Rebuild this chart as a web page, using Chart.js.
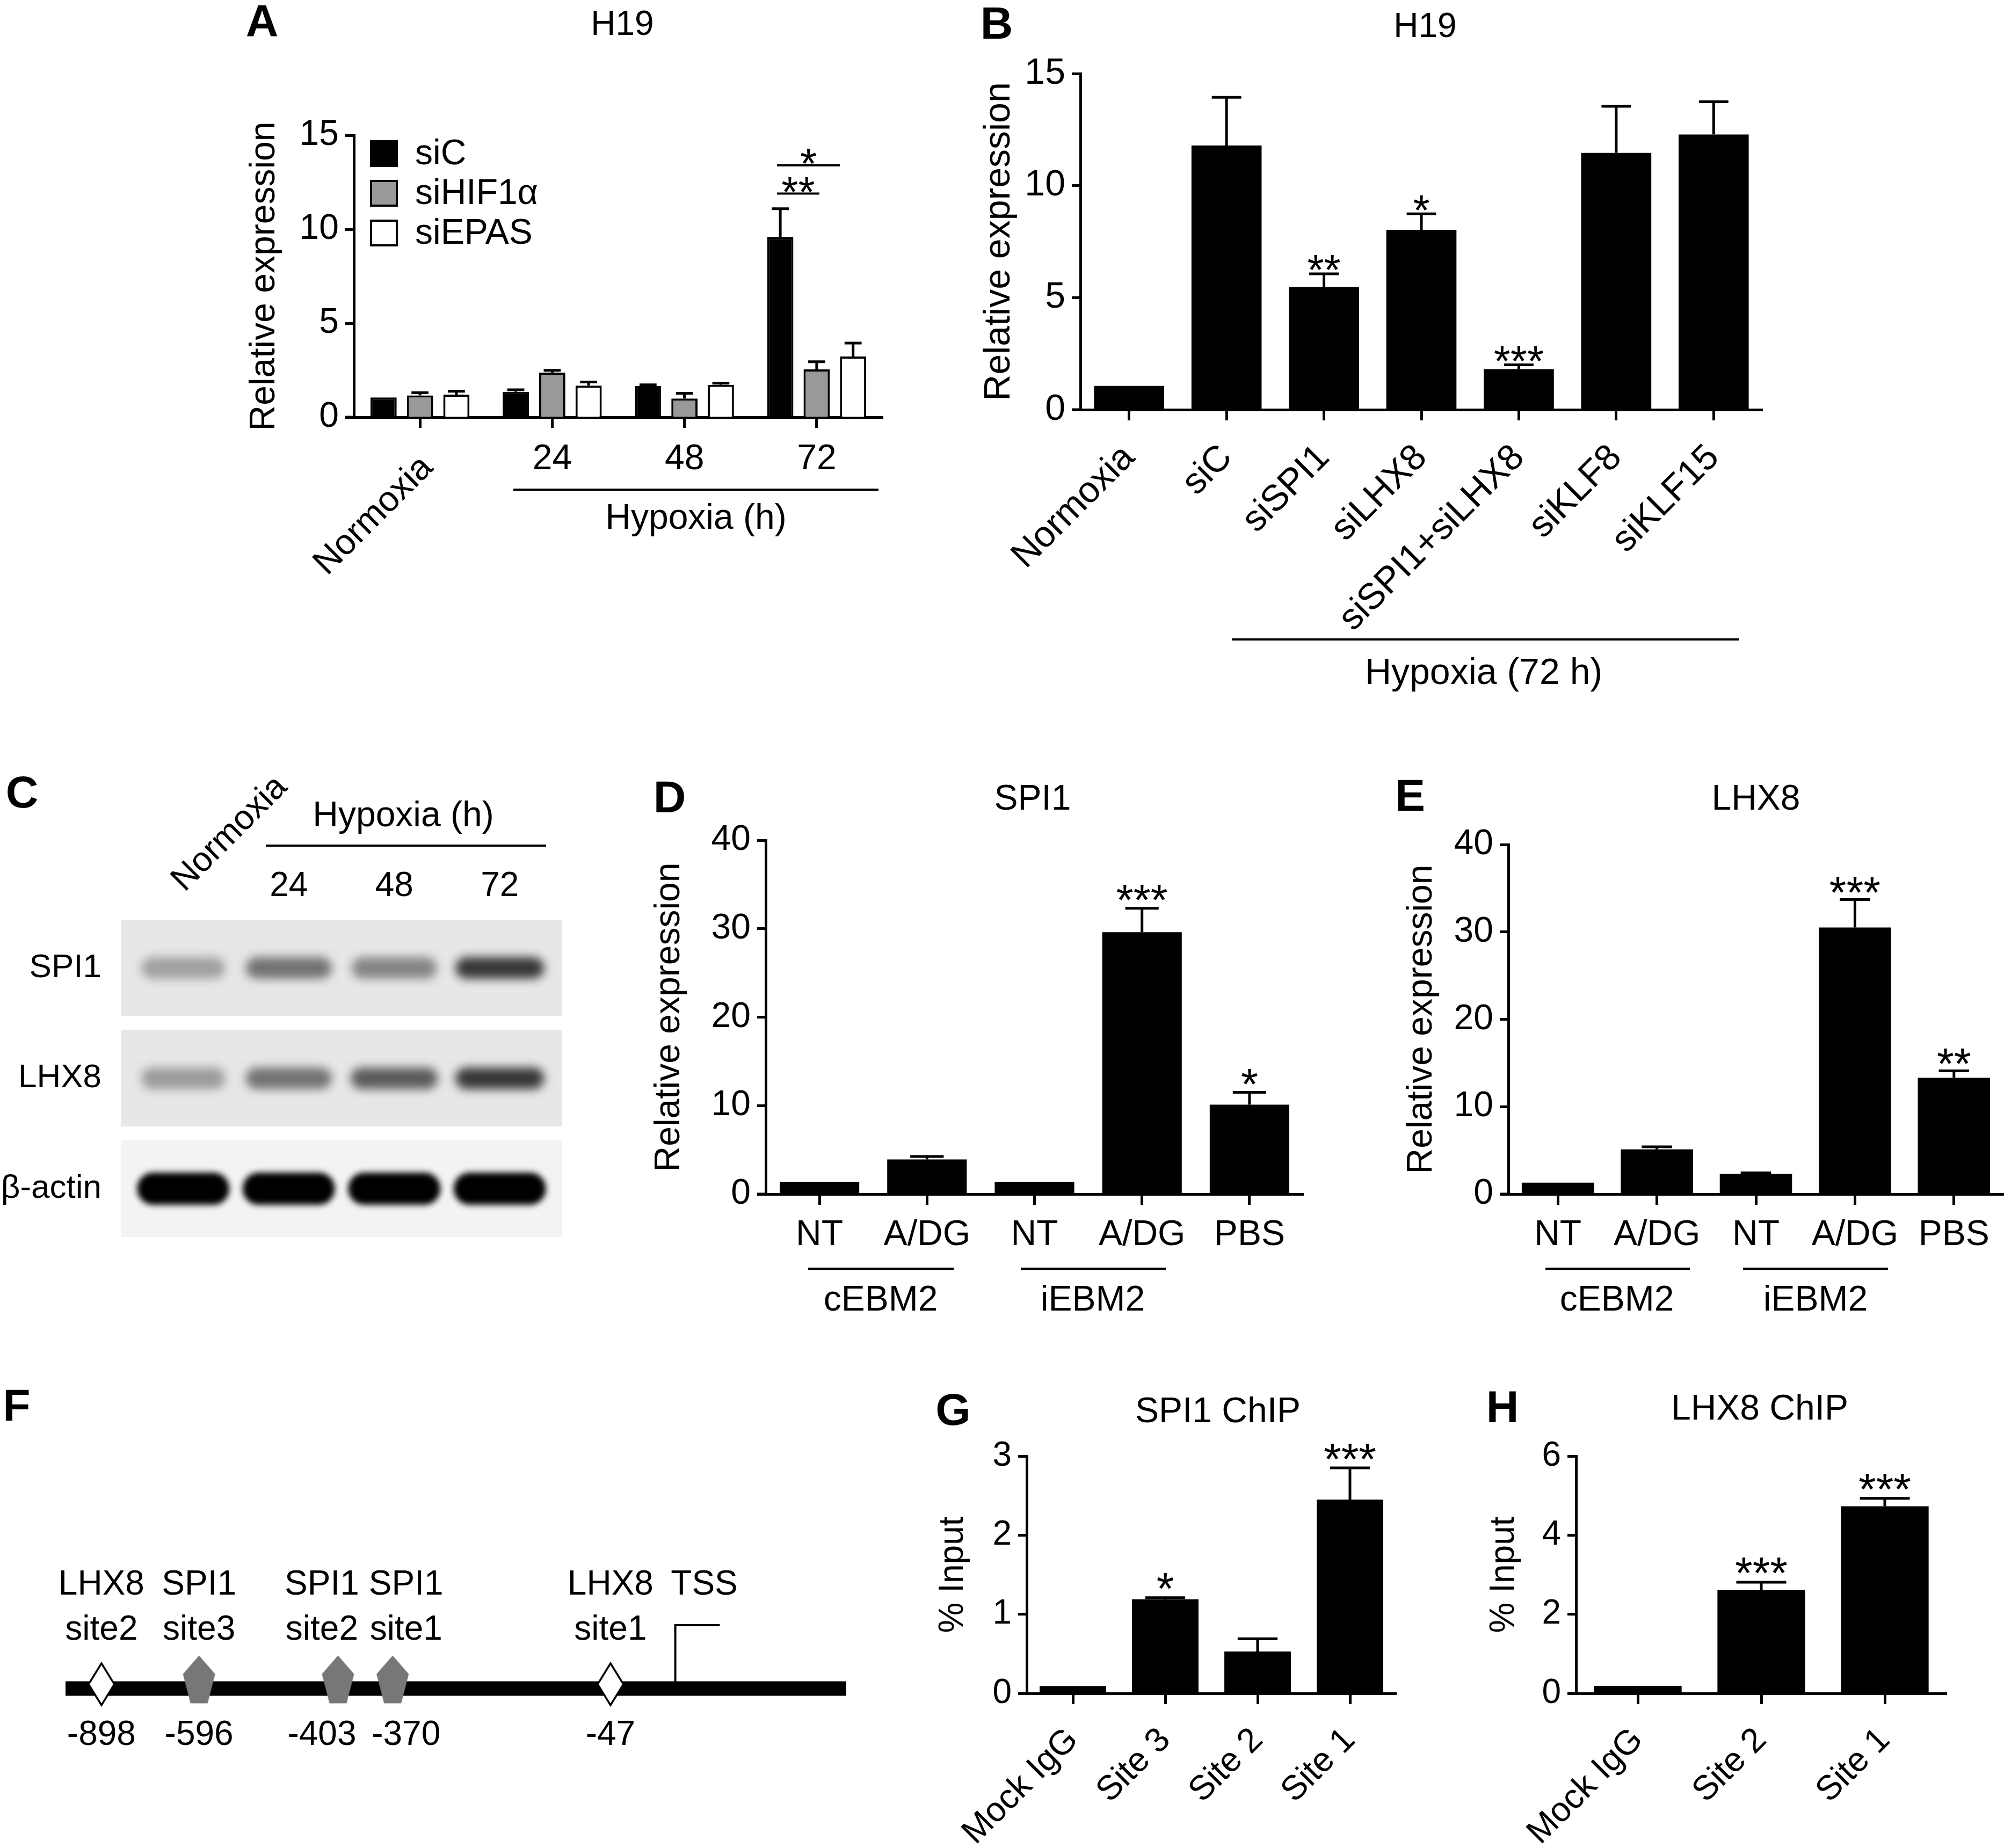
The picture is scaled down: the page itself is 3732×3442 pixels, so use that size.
<!DOCTYPE html>
<html lang="en">
<head>
<meta charset="UTF-8">
<title>H19 / SPI1 / LHX8</title>
<script src="https://cdn.jsdelivr.net/npm/chart.js@4.4.1/dist/chart.umd.min.js"></script>
<style>
  body { margin: 0; background: #fff; }
  #fig { position: relative; width: 3732px; height: 3442px; overflow: hidden; background: #fff; }
  #fig canvas { position: absolute; }
</style>
</head>
<body>
<div id="fig"></div>
<script>
// ---------------- data ----------------
// A: H19, siRNA vs hypoxia time
const aGroups = ['Normoxia', '24', '48', '72'];
const aSiC = [1.05, 1.35, 1.66, 9.59];
const aSiCErr = [0, 0.11, 0.06, 1.5];
const aSiHIF = [1.16, 2.37, 0.99, 2.54];
const aSiHIFErr = [0.14, 0.12, 0.28, 0.41];
const aSiEPAS = [1.2, 1.68, 1.72, 3.23];
const aSiEPASErr = [0.18, 0.19, 0.09, 0.71];
const aYTicks = [0, 5, 10, 15];
const aBrackets = [
  { group: 3, from: 0, to: 1, y: 11.9, text: '**' },
  { group: 3, from: 0, to: 2, y: 13.4, text: '*' }
];

// B: H19 after knockdown (hypoxia 72 h)
const bLabels = ['Normoxia', 'siC', 'siSPI1', 'siLHX8', 'siSPI1+siLHX8', 'siKLF8', 'siKLF15'];
const bValues = [1.06, 11.79, 5.47, 8.03, 1.81, 11.46, 12.28];
const bErr = [0, 2.15, 0.59, 0.71, 0.19, 2.08, 1.46];
const bStars = ['', '', '**', '*', '***', '', ''];
const bYTicks = [0, 5, 10, 15];

// C: western blot (band darkness 0..1)
const blotLanes = ['Normoxia', '24', '48', '72'];
const blotRows = ['SPI1', 'LHX8', 'β-actin'];
const bandSPI1 = [0.3, 0.5, 0.42, 0.76];
const bandLHX8 = [0.32, 0.5, 0.6, 0.76];
const bandActin = [1, 1, 1, 1];

// D / E: SPI1 and LHX8 expression
const deLabels = ['NT', 'A/DG', 'NT', 'A/DG', 'PBS'];
const dValues = [1.37, 3.92, 1.37, 29.6, 10.1];
const dErr = [0, 0.33, 0, 2.7, 1.4];
const dStars = ['', '', '', '***', '*'];
const eValues = [1.31, 5.12, 2.3, 30.5, 13.3];
const eErr = [0, 0.28, 0.12, 3.2, 0.8];
const eStars = ['', '', '', '***', '**'];
const deYTicks = [0, 10, 20, 30, 40];

// F: H19 promoter sites
const fSites = ['LHX8', 'SPI1', 'SPI1', 'SPI1', 'LHX8'];
const fSiteNo = ['site2', 'site3', 'site2', 'site1', 'site1'];
const fSitePos = ['-898', '-596', '-403', '-370', '-47'];
const fSiteX = [4.6, 17.1, 34.9, 41.9, 69.8];   // schematic position along the drawn promoter (0-100)
const fTss = [78.1, 83.8];                       // TSS stem and arrow end
const fTssH = 0.59;

// G / H: ChIP
const gLabels = ['Mock IgG', 'Site 3', 'Site 2', 'Site 1'];
const gValues = [0.094, 1.19, 0.53, 2.45];
const gErr = [0, 0.02, 0.16, 0.40];
const gStars = ['', '*', '', '***'];
const gYTicks = [0, 1, 2, 3];
const hLabels = ['Mock IgG', 'Site 2', 'Site 1'];
const hValues = [0.19, 2.62, 4.73];
const hErr = [0, 0.19, 0.2];
const hStars = ['', '***', '***'];
const hYTicks = [0, 2, 4, 6];

// ---------------- helpers ----------------
const FONT = '"Liberation Sans", Arial, Helvetica, sans-serif';
Chart.defaults.font.family = FONT;
Chart.defaults.color = '#000';
function px(size, bold) { return (bold ? 'bold ' : '') + size + 'px ' + FONT; }

function makeCanvas(id, left, top, width, height) {
  const c = document.createElement('canvas');
  c.id = id; c.width = width; c.height = height;
  c.style.left = left + 'px'; c.style.top = top + 'px';
  c.style.width = width + 'px'; c.style.height = height + 'px';
  document.getElementById('fig').appendChild(c);
  return c;
}

// free text and rules, given in page coordinates
function makeNotes(ox, oy, items, lines) {
  return {
    id: 'notes',
    afterDraw(chart) {
      const ctx = chart.ctx;
      ctx.save();
      ctx.strokeStyle = '#000'; ctx.fillStyle = '#000';
      lines.forEach(l => {
        ctx.lineWidth = l.w || 4;
        ctx.beginPath(); ctx.moveTo(l.x1 - ox, l.y1 - oy); ctx.lineTo(l.x2 - ox, l.y2 - oy); ctx.stroke();
      });
      items.forEach(n => {
        ctx.save();
        ctx.font = n.font;
        ctx.textAlign = n.align || 'center';
        ctx.textBaseline = n.base || 'middle';
        ctx.translate(n.x - ox, n.y - oy);
        if (n.rot) ctx.rotate(n.rot * Math.PI / 180);
        ctx.fillText(n.text, 0, 0);
        ctx.restore();
      });
      ctx.restore();
    }
  };
}

// error bars (upper half only) and significance stars
function makeErr(o) {
  return {
    id: 'errbars',
    afterDatasetsDraw(chart) {
      const ctx = chart.ctx, ys = chart.scales.y;
      ctx.save();
      ctx.strokeStyle = '#000'; ctx.fillStyle = '#000'; ctx.lineWidth = 5;
      chart.data.datasets.forEach((ds, di) => {
        chart.getDatasetMeta(di).data.forEach((bar, i) => {
          const v = ds.data[i], e = (ds.err || [])[i] || 0;
          const yTop = ys.getPixelForValue(v + e);
          if (e > 0) {
            const cw = bar.width * o.capFrac / 2;
            ctx.beginPath();
            ctx.moveTo(bar.x, bar.y); ctx.lineTo(bar.x, yTop);
            ctx.moveTo(bar.x - cw, yTop); ctx.lineTo(bar.x + cw, yTop);
            ctx.stroke();
          }
          const s = (ds.stars || [])[i];
          if (s) {
            ctx.font = px(o.starSize || 82);
            ctx.textAlign = 'center'; ctx.textBaseline = 'alphabetic';
            ctx.fillText(s, bar.x, yTop - o.starGap + 0.58 * (o.starSize || 82));
          }
        });
      });
      ctx.restore();
    }
  };
}

function barPanel(o) {
  const left = o.area.l - o.m.l, top = o.area.t - o.m.t;
  const w = o.area.r - o.area.l + o.m.l + o.m.r;
  const h = o.area.b - o.area.t + o.m.t + o.m.b;
  const cv = makeCanvas(o.id, left, top, w, h);
  const lines = (o.lines || []).concat([{ x1: o.area.l - 16, y1: o.area.b, x2: o.area.l, y2: o.area.b, w: 5 }]);
  return new Chart(cv, {
    type: 'bar',
    data: { labels: o.labels, datasets: o.datasets },
    options: {
      responsive: false, animation: false, events: [],
      layout: { padding: { left: 0, top: o.m.t, right: o.m.r, bottom: 0 } },
      plugins: { legend: { display: false }, tooltip: { enabled: false } },
      scales: {
        x: {
          offset: true,
          ticks: { display: o.xLabels !== false, font: { size: o.xfs }, color: '#000', autoSkip: false,
                   minRotation: o.xRot || 0, maxRotation: o.xRot || 0, padding: o.xPad || 10 },
          grid: { offset: false, drawOnChartArea: false, tickLength: 20, tickWidth: 5, tickColor: '#000' },
          border: { display: true, color: '#000', width: 5 },
          afterFit: s => { s.height = o.m.b; }
        },
        y: {
          min: 0, max: o.yTicks[o.yTicks.length - 1],
          afterBuildTicks: s => { s.ticks = o.yTicks.map(v => ({ value: v })); },
          ticks: { font: { size: o.yfs }, color: '#000', padding: 12 },
          grid: { drawOnChartArea: false, tickLength: 16, tickWidth: 5, tickColor: '#000' },
          border: { display: true, color: '#000', width: 5 },
          title: { display: true, text: o.yTitle, color: '#000', font: { size: o.ytfs },
                   padding: { top: o.ytPad, bottom: 0 } },
          afterFit: s => { s.width = o.m.l; }
        }
      }
    },
    plugins: [makeErr(o), makeNotes(left, top, o.notes || [], lines)].concat(o.extra || [])
  });
}

// ---------------- A ----------------
const aExtra = {
  id: 'aExtra',
  afterDraw(chart) {
    const ctx = chart.ctx, xs = chart.scales.x, ys = chart.scales.y, ca = chart.chartArea;
    ctx.save();
    ctx.fillStyle = '#000'; ctx.strokeStyle = '#000';
    ctx.font = px(66);
    aGroups.forEach((g, i) => {
      const x = xs.getPixelForValue(i);
      if (i === 0) {
        ctx.save(); ctx.translate(x + 14, ca.bottom + 84); ctx.rotate(-Math.PI / 4);
        ctx.textAlign = 'right'; ctx.textBaseline = 'middle'; ctx.fillText(g, 0, 0); ctx.restore();
      } else {
        ctx.textAlign = 'center'; ctx.textBaseline = 'middle'; ctx.fillText(g, x, ca.bottom + 79);
      }
    });
    // legend
    chart.data.datasets.forEach((ds, i) => {
      const cy = ca.top + 34 + i * 74, bx = ca.left + 30;
      ctx.fillStyle = ds.backgroundColor; ctx.fillRect(bx, cy - 25, 52, 50);
      ctx.lineWidth = 4; ctx.strokeRect(bx + 2, cy - 23, 48, 46);
      ctx.fillStyle = '#000'; ctx.textAlign = 'left'; ctx.textBaseline = 'middle';
      ctx.font = px(66); ctx.fillText(ds.label, bx + 84, cy + 2);
    });
    // significance brackets
    aBrackets.forEach(b => {
      const p = chart.getDatasetMeta(b.from).data[b.group], q = chart.getDatasetMeta(b.to).data[b.group];
      const x1 = p.x - 6, x2 = (b.to - b.from > 1) ? q.x - q.width / 2 : q.x + 5;
      const y = ys.getPixelForValue(b.y);
      ctx.lineWidth = 4;
      ctx.beginPath(); ctx.moveTo(x1, y); ctx.lineTo(x2, y); ctx.stroke();
      ctx.font = px(80); ctx.textAlign = 'center'; ctx.textBaseline = 'alphabetic';
      ctx.fillText(b.text, (x1 + x2) / 2, y - 22 + 0.58 * 80);
    });
    ctx.restore();
  }
};

barPanel({
  id: 'A', area: { l: 659, t: 252, r: 1644, b: 777 }, m: { l: 300, t: 252, r: 30, b: 310 },
  labels: aGroups, yTicks: aYTicks, yfs: 66, xfs: 66, xLabels: false,
  yTitle: 'Relative expression', ytfs: 66, ytPad: 94, capFrac: 0.65,
  datasets: [
    { label: 'siC', data: aSiC, err: aSiCErr, backgroundColor: '#000', borderColor: '#000', borderWidth: 4, barPercentage: 0.72, categoryPercentage: 0.826 },
    { label: 'siHIF1α', data: aSiHIF, err: aSiHIFErr, backgroundColor: '#999', borderColor: '#000', borderWidth: 4, barPercentage: 0.72, categoryPercentage: 0.826 },
    { label: 'siEPAS', data: aSiEPAS, err: aSiEPASErr, backgroundColor: '#fff', borderColor: '#000', borderWidth: 4, barPercentage: 0.72, categoryPercentage: 0.826 }
  ],
  notes: [
    { text: 'A', x: 488, y: 45, font: px(84, true) },
    { text: 'H19', x: 1159, y: 47, font: px(64) },
    { text: 'Hypoxia (h)', x: 1296, y: 967, font: px(66) }
  ],
  lines: [{ x1: 956, y1: 912, x2: 1636, y2: 912, w: 4 }],
  extra: [aExtra]
});

// ---------------- B ----------------
barPanel({
  id: 'B', area: { l: 2012, t: 137, r: 3282, b: 763 }, m: { l: 250, t: 137, r: 40, b: 540 },
  labels: bLabels, yTicks: bYTicks, yfs: 68, xfs: 68, xRot: 45, xPad: 30,
  yTitle: 'Relative expression', ytfs: 68, ytPad: 58, capFrac: 0.42, starSize: 80, starGap: 26,
  datasets: [{ data: bValues, err: bErr, stars: bStars, backgroundColor: '#000', barPercentage: 0.72, categoryPercentage: 1 }],
  notes: [
    { text: 'B', x: 1856, y: 49, font: px(84, true) },
    { text: 'H19', x: 2654, y: 51, font: px(64) },
    { text: 'Hypoxia (72 h)', x: 2763, y: 1255, font: px(68) }
  ],
  lines: [{ x1: 2294, y1: 1191, x2: 3238, y2: 1191, w: 4 }]
});

// ---------------- C (blot) ----------------
(function () {
  const left = 0, top = 1430;
  const cv = makeCanvas('C', left, top, 1060, 970);
  const pts = [];
  [bandSPI1, bandLHX8, bandActin].forEach((row, r) => row.forEach((v, i) => pts.push({ x: blotLanes[i], y: blotRows[r], v })));
  const cExtra = {
    id: 'cExtra',
    beforeDatasetsDraw(chart) {
      const ctx = chart.ctx, ys = chart.scales.y, ca = chart.chartArea;
      const rowH = (ca.bottom - ca.top) / blotRows.length;
      ctx.save();
      blotRows.forEach((r, i) => {
        const cy = ys.getPixelForValue(i);
        ctx.fillStyle = i === 2 ? '#f3f3f3' : '#e7e7e7';
        ctx.fillRect(ca.left - 18, cy - rowH / 2 + 13, ca.right - ca.left + 36, rowH - 26);
      });
      ctx.restore();
    },
    afterDatasetsDraw(chart) {
      const ctx = chart.ctx;
      ctx.save();
      chart.getDatasetMeta(0).data.forEach((p, k) => {
        const d = pts[k].v, actin = pts[k].y === 'β-actin';
        const bw = actin ? 172 : 150 + 20 * d, bh = actin ? 60 : 40;
        const g = Math.round(228 * (1 - d));
        ctx.filter = actin ? 'blur(6px)' : 'blur(9px)';
        ctx.fillStyle = 'rgb(' + g + ',' + g + ',' + g + ')';
        ctx.beginPath();
        ctx.roundRect(p.x - bw / 2, p.y - bh / 2, bw, bh, bh / 2);
        ctx.fill();
      });
      ctx.restore();
    },
    afterDraw(chart) {
      const ctx = chart.ctx, xs = chart.scales.x;
      ctx.save();
      ctx.fillStyle = '#000'; ctx.font = px(64);
      blotLanes.forEach((l, i) => {
        const x = xs.getPixelForValue(i);
        if (i === 0) {
          ctx.save(); ctx.translate(x - 10, 1650 - top); ctx.rotate(-Math.PI / 4);
          ctx.textAlign = 'left'; ctx.textBaseline = 'middle'; ctx.fillText(l, 0, 0); ctx.restore();
        } else {
          ctx.textAlign = 'center'; ctx.textBaseline = 'middle'; ctx.fillText(l, x, 1651 - top);
        }
      });
      ctx.restore();
    }
  };
  new Chart(cv, {
    type: 'scatter',
    data: { datasets: [{ data: pts, pointRadius: 0 }] },
    options: {
      responsive: false, animation: false, events: [],
      layout: { padding: { left: 0, top: 270, right: 31, bottom: 25 } },
      plugins: { legend: { display: false }, tooltip: { enabled: false } },
      scales: {
        x: { type: 'category', labels: blotLanes, offset: true, display: false },
        y: { type: 'category', labels: blotRows, offset: true,
             ticks: { font: { size: 62 }, color: '#000', padding: 46 },
             grid: { display: false }, border: { display: false },
             afterFit: s => { s.width = 243; } }
      }
    },
    plugins: [cExtra, makeNotes(left, top, [
      { text: 'C', x: 41, y: 1481, font: px(84, true) },
      { text: 'Hypoxia (h)', x: 751, y: 1521, font: px(66) }
    ], [{ x1: 495, y1: 1575, x2: 1017, y2: 1575, w: 4 }])]
  });
})();

// ---------------- D ----------------
barPanel({
  id: 'D', area: { l: 1426, t: 1565, r: 2427, b: 2224 }, m: { l: 230, t: 135, r: 20, b: 240 },
  labels: deLabels, yTicks: deYTicks, yfs: 66, xfs: 66, xPad: 17,
  yTitle: 'Relative expression', ytfs: 66, ytPad: 11, capFrac: 0.42, starSize: 82, starGap: 35,
  datasets: [{ data: dValues, err: dErr, stars: dStars, backgroundColor: '#000', barPercentage: 0.74, categoryPercentage: 1 }],
  notes: [
    { text: 'D', x: 1247, y: 1490, font: px(84, true) },
    { text: 'SPI1', x: 1923, y: 1490, font: px(66) },
    { text: 'cEBM2', x: 1640, y: 2423, font: px(66) },
    { text: 'iEBM2', x: 2035, y: 2423, font: px(66) }
  ],
  lines: [{ x1: 1505, y1: 2363, x2: 1776, y2: 2363 }, { x1: 1901, y1: 2363, x2: 2171, y2: 2363 }]
});

// ---------------- E ----------------
barPanel({
  id: 'E', area: { l: 2809, t: 1573, r: 3731, b: 2224 }, m: { l: 230, t: 143, r: 1, b: 240 },
  labels: deLabels, yTicks: deYTicks, yfs: 66, xfs: 66, xPad: 17,
  yTitle: 'Relative expression', ytfs: 66, ytPad: 29, capFrac: 0.42, starSize: 82, starGap: 33,
  datasets: [{ data: eValues, err: eErr, stars: eStars, backgroundColor: '#000', barPercentage: 0.73, categoryPercentage: 1 }],
  notes: [
    { text: 'E', x: 2626, y: 1487, font: px(84, true) },
    { text: 'LHX8', x: 3270, y: 1490, font: px(66) },
    { text: 'cEBM2', x: 3011, y: 2423, font: px(66) },
    { text: 'iEBM2', x: 3381, y: 2423, font: px(66) }
  ],
  lines: [{ x1: 2878, y1: 2363, x2: 3147, y2: 2363 }, { x1: 3246, y1: 2363, x2: 3516, y2: 2363 }]
});

// ---------------- F (promoter map) ----------------
(function () {
  const left = 0, top = 2570;
  const cv = makeCanvas('F', left, top, 1620, 872);
  function shape(w, h, pts, fill, stroke) {
    const c = document.createElement('canvas'); c.width = w; c.height = h;
    const g = c.getContext('2d');
    g.beginPath(); pts.forEach((p, i) => i ? g.lineTo(p[0], p[1]) : g.moveTo(p[0], p[1])); g.closePath();
    g.fillStyle = fill; g.fill();
    if (stroke) { g.lineWidth = 3.5; g.strokeStyle = stroke; g.stroke(); }
    return c;
  }
  const shapes = {
    LHX8: shape(54, 98, [[27, 2], [51, 41], [27, 80], [3, 41]], '#fff', '#000'),
    SPI1: shape(62, 124, [[31, 0.5], [61, 35], [47, 89.5], [15, 89.5], [1, 35]], '#777')
  };
  const nudge = [0, 0, -30, 25, 0];
  const fText = {
    id: 'fText',
    afterDraw(chart) {
      const ctx = chart.ctx, xs = chart.scales.x, ys = chart.scales.y;
      const y0 = ys.getPixelForValue(0);
      ctx.save();
      ctx.fillStyle = '#000'; ctx.font = px(64); ctx.textAlign = 'center'; ctx.textBaseline = 'middle';
      fSites.forEach((s, i) => {
        const x = xs.getPixelForValue(fSiteX[i]) + nudge[i];
        ctx.fillText(s, x, y0 - 193);
        ctx.fillText(fSiteNo[i], x, y0 - 109);
        ctx.fillText(fSitePos[i], x, y0 + 87);
      });
      ctx.fillText('TSS', xs.getPixelForValue(fTss[0]) + 54, y0 - 193);
      ctx.restore();
    }
  };
  new Chart(cv, {
    type: 'scatter',
    data: { datasets: [
      { data: fSiteX.map(x => ({ x, y: 0 })), pointStyle: c => shapes[fSites[c.dataIndex]], pointRadius: 5, order: 0 },
      { data: [{ x: fTss[0], y: 0 }, { x: fTss[0], y: fTssH }, { x: fTss[1], y: fTssH }], showLine: true,
        borderColor: '#000', borderWidth: 4, pointRadius: 0, borderJoinStyle: 'miter', order: 1 },
      { data: [{ x: 0, y: 0 }, { x: 100, y: 0 }], showLine: true, borderColor: '#000', borderWidth: 27,
        pointRadius: 0, borderCapStyle: 'butt', order: 2 }
    ] },
    options: {
      responsive: false, animation: false, events: [],
      layout: { padding: { left: 122, top: 375, right: 44, bottom: 97 } },
      plugins: { legend: { display: false }, tooltip: { enabled: false } },
      scales: { x: { display: false, min: 0, max: 100 }, y: { display: false, min: -1, max: 1 } }
    },
    plugins: [fText, makeNotes(left, top, [{ text: 'F', x: 31, y: 2623, font: px(84, true) }], [])]
  });
})();

// ---------------- G ----------------
barPanel({
  id: 'G', area: { l: 1912, t: 2712, r: 2600, b: 3154 }, m: { l: 200, t: 142, r: 30, b: 288 },
  labels: gLabels, yTicks: gYTicks, yfs: 64, xfs: 64, xRot: 45, xPad: 30,
  yTitle: '% Input', ytfs: 64, ytPad: 25, capFrac: 0.6, starSize: 84, starGap: 36,
  datasets: [{ data: gValues, err: gErr, stars: gStars, backgroundColor: '#000', barPercentage: 0.72, categoryPercentage: 1 }],
  notes: [
    { text: 'G', x: 1775, y: 2631, font: px(84, true) },
    { text: 'SPI1 ChIP', x: 2268, y: 2631, font: px(66) }
  ]
});

// ---------------- H ----------------
barPanel({
  id: 'H', area: { l: 2935, t: 2712, r: 3625, b: 3154 }, m: { l: 200, t: 142, r: 40, b: 288 },
  labels: hLabels, yTicks: hYTicks, yfs: 64, xfs: 64, xRot: 45, xPad: 30,
  yTitle: '% Input', ytfs: 64, ytPad: 28, capFrac: 0.57, starSize: 84, starGap: 37,
  datasets: [{ data: hValues, err: hErr, stars: hStars, backgroundColor: '#000', barPercentage: 0.71, categoryPercentage: 1 }],
  notes: [
    { text: 'H', x: 2798, y: 2626, font: px(84, true) },
    { text: 'LHX8 ChIP', x: 3277, y: 2626, font: px(66) }
  ]
});
</script>
</body>
</html>
